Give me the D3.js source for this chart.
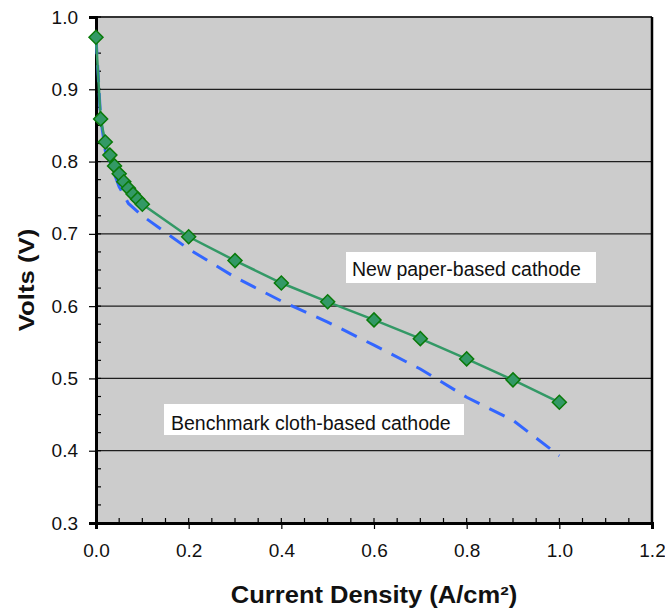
<!DOCTYPE html>
<html>
<head>
<meta charset="utf-8">
<script src="https://cdn.jsdelivr.net/npm/d3@7"></script>
<style>
  body { margin: 0; background: #fff; }
  svg { display: block; font-family: "Liberation Sans", Arial, sans-serif; }
</style>
</head>
<body>
<script>
// data
var paperX = [0, 0.01, 0.02, 0.03, 0.04, 0.05, 0.06, 0.07, 0.08, 0.09, 0.1, 0.2, 0.3, 0.4, 0.5, 0.6, 0.7, 0.8, 0.9, 1.0];
var paperV = [0.972, 0.859, 0.827, 0.809, 0.794, 0.783, 0.772, 0.763, 0.755, 0.748, 0.741, 0.696, 0.663, 0.632, 0.606, 0.581, 0.555, 0.527, 0.498, 0.467];
var clothX = [0, 0.01, 0.02, 0.03, 0.05, 0.07, 0.1, 0.2, 0.3, 0.4, 0.5, 0.6, 0.7, 0.8, 0.9, 1.0];
var clothV = [0.972, 0.86, 0.815, 0.8, 0.765, 0.742, 0.725, 0.679, 0.64, 0.607, 0.578, 0.546, 0.513, 0.474, 0.442, 0.393];
var xTicks = [0, 0.2, 0.4, 0.6, 0.8, 1.0, 1.2];
var yTicks = [0.3, 0.4, 0.5, 0.6, 0.7, 0.8, 0.9, 1.0];
var xTitle = "Current Density (A/cm²)";
var yTitle = "Volts (V)";
var paperLabel = "New paper-based cathode";
var clothLabel = "Benchmark cloth-based cathode";

//Width and height
var w = 665;
var h = 608;
var plotL = 96, plotR = 652, plotT = 17, plotB = 523;

var svg = d3.select("body")
    .append("svg")
    .attr("width", w)
    .attr("height", h);

// Scales
var xScale = d3.scaleLinear().domain([0, 1.2]).range([plotL, plotR]);
var yScale = d3.scaleLinear().domain([0.3, 1.0]).range([plotB, plotT]);

// plot background
svg.append("rect")
    .attr("x", plotL).attr("y", plotT)
    .attr("width", plotR - plotL).attr("height", plotB - plotT)
    .attr("fill", "#cccccc");

// gridlines
svg.append("g")
    .selectAll("line")
    .data(yTicks.filter(function (d) { return d > 0.3 && d < 1.0; }))
    .enter()
    .append("line")
    .attr("x1", plotL).attr("x2", plotR)
    .attr("y1", function (d) { return yScale(d); })
    .attr("y2", function (d) { return yScale(d); })
    .attr("stroke", "#1e1e1e")
    .attr("stroke-width", 1.3);

// top and right border
svg.append("line")
    .attr("x1", plotL).attr("x2", plotR).attr("y1", plotT).attr("y2", plotT)
    .attr("stroke", "#333").attr("stroke-width", 2);
svg.append("line")
    .attr("x1", plotR).attr("x2", plotR).attr("y1", plotT).attr("y2", plotB)
    .attr("stroke", "#000").attr("stroke-width", 2.5);

// minor ticks (inside)
var xMinor = d3.range(0, 1.2001, 0.05);
var yMinor = d3.range(0.3, 1.0001, 0.025);
svg.append("g")
    .selectAll("line")
    .data(xMinor)
    .enter()
    .append("line")
    .attr("x1", function (d) { return xScale(d); })
    .attr("x2", function (d) { return xScale(d); })
    .attr("y1", plotB).attr("y2", plotB - 5)
    .attr("stroke", "#000").attr("stroke-width", 1.2);
svg.append("g")
    .selectAll("line")
    .data(yMinor)
    .enter()
    .append("line")
    .attr("x1", plotL).attr("x2", plotL + 5)
    .attr("y1", function (d) { return yScale(d); })
    .attr("y2", function (d) { return yScale(d); })
    .attr("stroke", "#000").attr("stroke-width", 1.2);

// Axes
var xAxis = d3.axisBottom(xScale)
    .tickValues(xTicks)
    .tickSize(6)
    .tickPadding(15)
    .tickFormat(d3.format(".1f"));
var yAxis = d3.axisLeft(yScale)
    .tickValues(yTicks)
    .tickSize(7)
    .tickPadding(11)
    .tickFormat(d3.format(".1f"));

var gx = svg.append("g")
    .attr("transform", "translate(0," + plotB + ")")
    .call(xAxis);
var gy = svg.append("g")
    .attr("transform", "translate(" + plotL + ",0)")
    .call(yAxis);

[gx, gy].forEach(function (g) {
    g.attr("font-size", null).attr("font-family", null);
    g.select(".domain").attr("stroke", "#000").attr("stroke-width", 3);
    g.selectAll(".tick line").attr("stroke", "#000").attr("stroke-width", 1.2);
    g.selectAll(".tick text")
        .style("font-family", "'Liberation Sans', Arial, sans-serif")
        .style("font-size", "19px")
        .attr("fill", "#111");
});

// curves
var clothData = clothX.map(function (x, i) { return [x, clothV[i]]; });
var paperData = paperX.map(function (x, i) { return [x, paperV[i]]; });

var line = d3.line()
    .x(function (d) { return xScale(d[0]); })
    .y(function (d) { return yScale(d[1]); });

svg.append("path")
    .datum(clothData)
    .attr("d", line)
    .attr("fill", "none")
    .attr("stroke", "#3366ff")
    .attr("stroke-width", 3)
    .attr("stroke-dasharray", "17,11");

svg.append("path")
    .datum(paperData)
    .attr("d", line)
    .attr("fill", "none")
    .attr("stroke", "#339966")
    .attr("stroke-width", 2.5);

var diamond = d3.symbol().type(d3.symbolSquare).size(98);
svg.append("g")
    .selectAll("path")
    .data(paperData)
    .enter()
    .append("path")
    .attr("d", diamond)
    .attr("transform", function (d) {
        return "translate(" + xScale(d[0]) + "," + yScale(d[1]) + ") rotate(45)";
    })
    .attr("fill", "#339966")
    .attr("stroke", "#0a7a0a")
    .attr("stroke-width", 1.5);

// annotation boxes
function label(txt, bx, by, bw, bh, tx, ty) {
    svg.append("rect")
        .attr("x", bx).attr("y", by)
        .attr("width", bw).attr("height", bh)
        .attr("fill", "#fff");
    svg.append("text")
        .attr("x", tx).attr("y", ty)
        .attr("font-size", "19.5px")
        .attr("fill", "#111")
        .text(txt);
}
label(paperLabel, 346, 252, 250, 31, 352, 276);
label(clothLabel, 164, 404, 300, 31, 171, 430);

// axis titles (slightly wide, as in the original)
svg.append("text")
    .attr("transform", "translate(" + (plotL + plotR) / 2 + ",603) scale(1.11,1)")
    .attr("text-anchor", "middle")
    .attr("font-size", "23px")
    .attr("font-weight", "bold")
    .attr("fill", "#111")
    .text(xTitle);

svg.append("text")
    .attr("transform", "translate(34,280) rotate(-90) scale(1.12,1)")
    .attr("text-anchor", "middle")
    .attr("font-size", "23px")
    .attr("font-weight", "bold")
    .attr("fill", "#111")
    .text(yTitle);
</script>
</body>
</html>
